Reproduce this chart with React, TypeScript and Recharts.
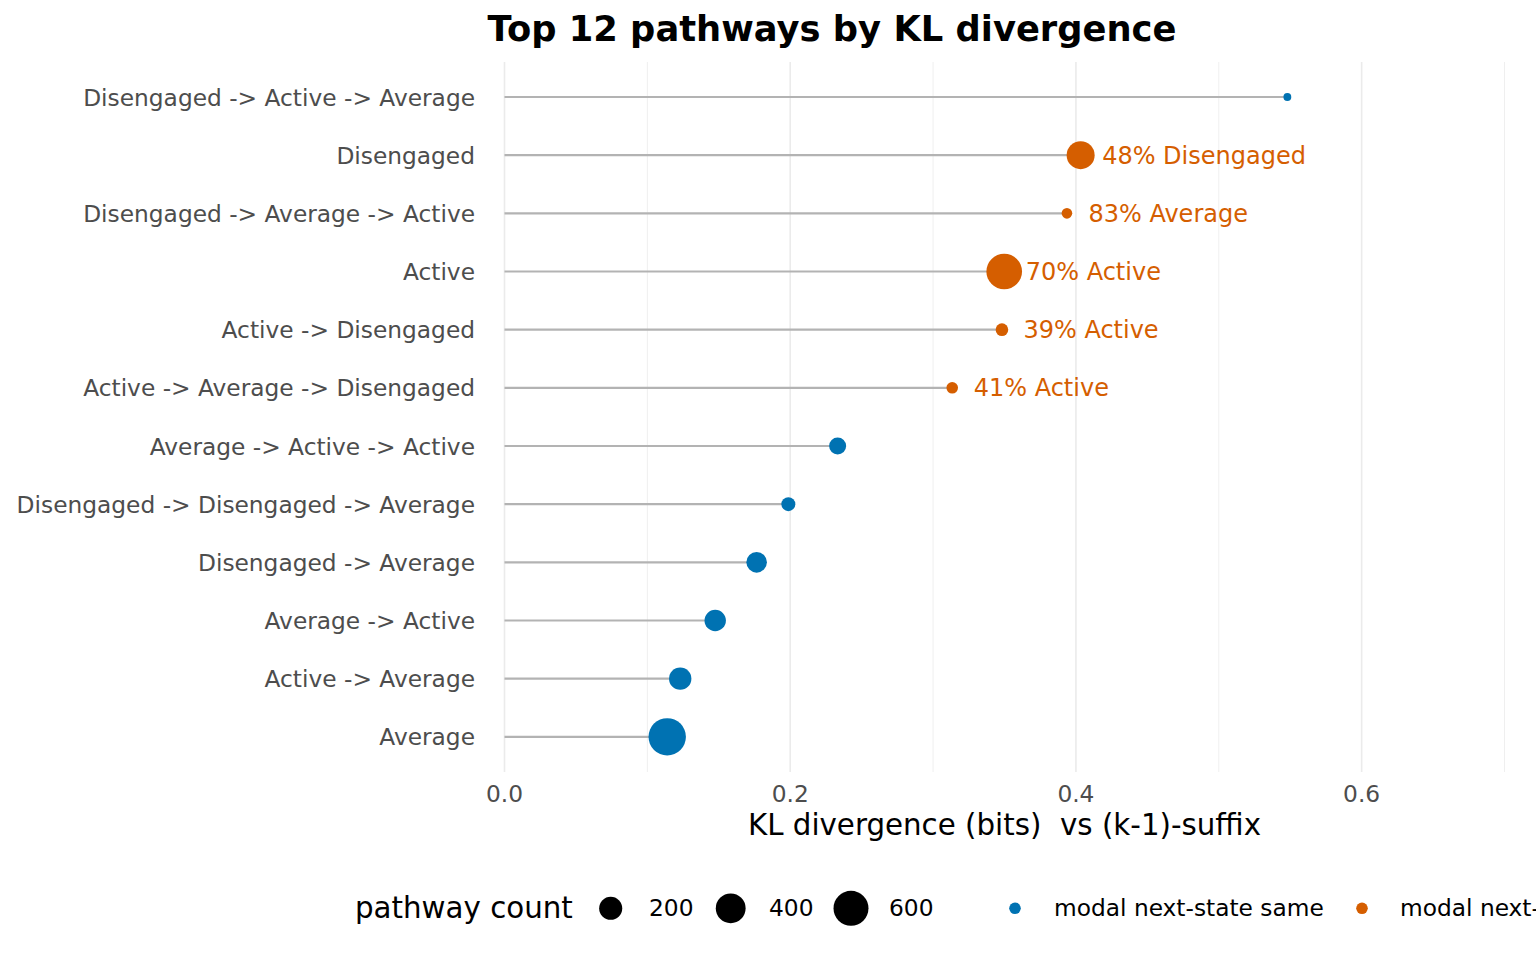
import React from 'react';
import { ComposedChart, Bar, XAxis, YAxis, CartesianGrid, Legend } from 'recharts';

const pathways = [
  'Disengaged -> Active -> Average',
  'Disengaged',
  'Disengaged -> Average -> Active',
  'Active',
  'Active -> Disengaged',
  'Active -> Average -> Disengaged',
  'Average -> Active -> Active',
  'Disengaged -> Disengaged -> Average',
  'Disengaged -> Average',
  'Average -> Active',
  'Active -> Average',
  'Average',
];
const klValues = [0.548, 0.4033, 0.3937, 0.3498, 0.3482, 0.3134, 0.2332, 0.1987, 0.1765, 0.1475, 0.123, 0.1139];
const counts = [15, 338, 21, 631, 33, 26, 82, 45, 144, 161, 183, 710];
const modalSame = [true, false, false, false, false, false, true, true, true, true, true, true];
const valueLabels = ['', '48% Disengaged', '83% Average', '70% Active', '39% Active', '41% Active', '', '', '', '', '', ''];
const majorTicks = [0, 0.2, 0.4, 0.6];
const minorTicks = [0.1, 0.3, 0.5, 0.7];
const legendCounts = [200, 400, 600];
const legendColors = ['modal next-state same', 'modal next-state different'];

const BLUE = '#0072B2';
const ORANGE = '#D55E00';
const FONT = '"DejaVu Sans", Verdana, sans-serif';
const X_MAX = 0.7;

const data = pathways.map((name, i) => ({
  name,
  kl: klValues[i],
  count: counts[i],
  same: modalSame[i],
  label: valueLabels[i],
}));

const nMin = Math.min(...counts);
const nMax = Math.max(...counts);
const radius = (n: number) => 3.93 + 14.77 * Math.sqrt(Math.max(0, (n - nMin) / (nMax - nMin)));

const gridGen = (values: number[]) => (args: any) => {
  const ax = args && args.xAxis;
  const off = args && args.offset;
  if (ax && typeof ax.scale === 'function') {
    return values.map((v) => ax.scale(v));
  }
  return values.map((v) => off.left + (v / X_MAX) * off.width);
};

const Lollipop = (props: any) => {
  const { x, y, width, height } = props;
  const p = props.payload ?? props;
  const cy = y + height / 2;
  const cx = x + width;
  const r = radius(p.count);
  const color = p.same ? BLUE : ORANGE;
  return (
    <g>
      <line x1={x} y1={cy} x2={cx} y2={cy} stroke="#b3b3b3" strokeWidth={2.2} />
      <circle cx={cx} cy={cy} r={r} fill={color} />
      {p.label ? (
        <text x={cx + 21.5} y={cy + 8.6} fontSize={24} fill={ORANGE} fontFamily={FONT}>
          {p.label}
        </text>
      ) : null}
    </g>
  );
};

const YTick = (props: any) => {
  const { x, y, payload } = props;
  return (
    <text x={x - 29.5} y={y + 8.5} textAnchor="end" fontSize={23.3} fill="#4d4d4d" fontFamily={FONT}>
      {payload.value}
    </text>
  );
};

const XTick = (props: any) => {
  const { x, y, payload } = props;
  return (
    <text x={x} y={y + 30} textAnchor="middle" fontSize={23.3} fill="#4d4d4d" fontFamily={FONT}>
      {Number(payload.value).toFixed(1)}
    </text>
  );
};

const LegendContent = () => {
  const sizeX = [610.7, 730.7, 851];
  const sizeLabelX = [649, 769, 889];
  const dotX = [1015, 1362];
  const dotLabelX = [1054, 1400];
  const cols = [BLUE, ORANGE];
  return (
    <svg width={1536} height={70} style={{ display: 'block' }}>
      <text x={355} y={48} fontSize={29.3} fill="#000" fontFamily={FONT}>pathway count</text>
      {legendCounts.map((n, i) => (
        <g key={n}>
          <circle cx={sizeX[i]} cy={38.3} r={radius(n)} fill="#000" />
          <text x={sizeLabelX[i]} y={46} fontSize={23.3} fill="#000" fontFamily={FONT}>{n}</text>
        </g>
      ))}
      {legendColors.map((t, i) => (
        <g key={t}>
          <circle cx={dotX[i]} cy={38.3} r={5.8} fill={cols[i]} />
          <text x={dotLabelX[i]} y={46} fontSize={23.3} fill="#000" fontFamily={FONT}>{t}</text>
        </g>
      ))}
    </svg>
  );
};

export default function App() {
  return (
    <div
      style={{
        position: 'absolute',
        left: 0,
        top: 0,
        width: 1536,
        height: 960,
        overflow: 'hidden',
        background: '#fff',
        fontFamily: FONT,
      }}
    >
      <ComposedChart
        layout="vertical"
        width={1536}
        height={960}
        data={data}
        margin={{ top: 62, right: 31.5, bottom: 128, left: 0 }}
      >
        <CartesianGrid
          horizontal={false}
          vertical
          stroke="#ebebeb"
          strokeWidth={0.8}
          verticalCoordinatesGenerator={gridGen(minorTicks)}
        />
        <CartesianGrid
          horizontal={false}
          vertical
          stroke="#ebebeb"
          strokeWidth={1.6}
          verticalCoordinatesGenerator={gridGen(majorTicks)}
        />
        <XAxis
          type="number"
          dataKey="kl"
          domain={[0, X_MAX]}
          ticks={majorTicks}
          axisLine={false}
          tickLine={false}
          tickSize={0}
          tickMargin={0}
          height={60}
          tick={<XTick />}
          interval={0}
          label={{
            content: (lp: any) => {
              const vb = lp.viewBox || {};
              return (
                <text
                  x={vb.x + vb.width / 2}
                  y={vb.y + 63}
                  textAnchor="middle"
                  fontSize={29.3}
                  fill="#000"
                  fontFamily={FONT}
                  style={{ whiteSpace: 'pre' }}
                >
                  {'KL divergence (bits)  vs (k-1)-suffix'}
                </text>
              );
            },
          }}
        />
        <YAxis
          type="category"
          dataKey="name"
          width={504.5}
          axisLine={false}
          tickLine={false}
          tickSize={0}
          tickMargin={0}
          interval={0}
          padding={{ top: 6, bottom: 6 }}
          tick={<YTick />}
        />
        <Bar dataKey="kl" barSize={20} shape={<Lollipop />} isAnimationActive={false} />
        <Legend
          layout="horizontal"
          verticalAlign="middle"
          align="center"
          wrapperStyle={{ position: 'absolute', top: 870, left: 0, width: 1536, height: 70 }}
          content={() => <LegendContent />}
        />
      </ComposedChart>
      <svg
        width={1536}
        height={60}
        style={{ position: 'absolute', left: 0, top: 0, pointerEvents: 'none' }}
      >
        <text x={832} y={40.5} textAnchor="middle" fontSize={35.3} fontWeight="bold" fill="#000" fontFamily={FONT}>
          Top 12 pathways by KL divergence
        </text>
      </svg>
    </div>
  );
}
